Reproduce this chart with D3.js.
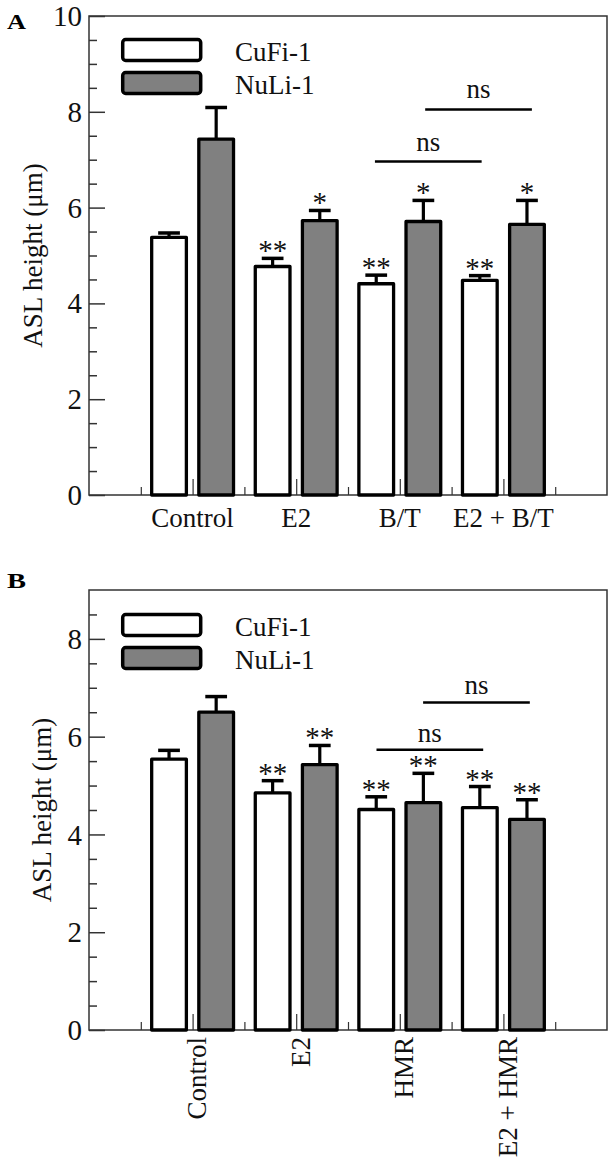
<!DOCTYPE html>
<html>
<head>
<meta charset="utf-8">
<script src="https://cdn.jsdelivr.net/npm/d3@7"></script>
<style>
  html, body { margin: 0; padding: 0; background: #fff; }
  svg { display: block; }
</style>
</head>
<body>
<svg id="chart" width="615" height="1167"></svg>
<script>
// ---------- DATA ----------
const seriesNames = ["CuFi-1", "NuLi-1"];
const groupPositions = [2, 4, 6, 8];

// Panel A
const categoriesA = ["Control", "E2", "B/T", "E2 + B/T"];
const cufiA = [5.38, 4.77, 4.41, 4.48];
const cufiAErr = [0.09, 0.17, 0.18, 0.10];
const nuliA = [7.43, 5.73, 5.71, 5.65];
const nuliAErr = [0.66, 0.21, 0.44, 0.50];
const cufiASig = ["", "**", "**", "**"];
const nuliASig = ["", "*", "*", "*"];
const yTicksA = [0, 2, 4, 6, 8, 10];
const nsA = [{x0: 5.52, x1: 7.58, y: 6.96, label: "ns"}, {x0: 6.49, x1: 8.55, y: 8.05, label: "ns"}];

// Panel B
const categoriesB = ["Control", "E2", "HMR", "E2 + HMR"];
const cufiB = [5.54, 4.85, 4.51, 4.55];
const cufiBErr = [0.18, 0.25, 0.26, 0.43];
const nuliB = [6.50, 5.43, 4.65, 4.31];
const nuliBErr = [0.32, 0.39, 0.60, 0.40];
const cufiBSig = ["", "**", "**", "**"];
const nuliBSig = ["", "**", "**", "**"];
const yTicksB = [0, 2, 4, 6, 8];
const nsB = [{x0: 5.55, x1: 7.61, y: 5.73, label: "ns"}, {x0: 6.45, x1: 8.51, y: 6.70, label: "ns"}];

// ---------- DRAW ----------
const FONT = "'Liberation Serif', 'Times New Roman', Times, serif";
const svg = d3.select("#chart");

function drawPanel(cfg) {
  const g = svg.append("g");
  const x = d3.scaleLinear().domain([0, 10]).range([89, 607]);
  const y = d3.scaleLinear().domain([0, cfg.yMax]).range([cfg.bottom, cfg.top]);

  // frame
  g.append("rect")
    .attr("x", x(0)).attr("y", y(cfg.yMax))
    .attr("width", x(10) - x(0)).attr("height", y(0) - y(cfg.yMax))
    .attr("fill", "none").attr("stroke", "#333").attr("stroke-width", 1.5);

  // y axis major
  const yMajor = d3.axisLeft(y).tickValues(cfg.yTicks).tickSizeInner(-16).tickSizeOuter(0).tickPadding(7)
    .tickFormat(d3.format("d"));
  const ya = g.append("g").attr("transform", `translate(${x(0)},0)`).call(yMajor);
  ya.select(".domain").remove();
  ya.selectAll("line").attr("stroke", "#333").attr("stroke-width", 1.5);
  ya.selectAll("text").attr("font-family", FONT).attr("font-size", 29).attr("fill", "#111").attr("dy", "0.33em");
  // y minor
  const yMinorVals = d3.range(0.5, cfg.yMax + 0.001, 0.5).filter(v => v % 2 !== 0 && v < cfg.yMax);
  const ym = g.append("g").attr("transform", `translate(${x(0)},0)`)
    .call(d3.axisLeft(y).tickValues(yMinorVals).tickSizeInner(-8).tickSizeOuter(0).tickFormat(""));
  ym.select(".domain").remove();
  ym.selectAll("line").attr("stroke", "#333").attr("stroke-width", 1.5);

  // x axis major
  const xMajor = d3.axisBottom(x).tickValues(groupPositions).tickSizeInner(-16).tickSizeOuter(0).tickFormat("");
  const xa = g.append("g").attr("transform", `translate(0,${y(0)})`).call(xMajor);
  xa.select(".domain").remove();
  xa.selectAll("line").attr("stroke", "#333").attr("stroke-width", 1.2);
  const xm = g.append("g").attr("transform", `translate(0,${y(0)})`)
    .call(d3.axisBottom(x).tickValues([1, 3, 5, 7, 9]).tickSizeInner(-8).tickSizeOuter(0).tickFormat(""));
  xm.select(".domain").remove();
  xm.selectAll("line").attr("stroke", "#333").attr("stroke-width", 1.2);

  // category labels
  const lab = g.append("g").selectAll("text").data(cfg.categories).join("text")
    .attr("font-family", FONT).attr("font-size", 27).attr("fill", "#111")
    .text(d => d);
  if (cfg.rotate) {
    lab.attr("text-anchor", "end")
      .attr("transform", (d, i) => `translate(${x(groupPositions[i]) + 13.5},${y(0) + 7}) rotate(-90)`);
  } else {
    lab.attr("text-anchor", "middle")
      .attr("x", (d, i) => x(groupPositions[i]))
      .attr("y", y(0) + 32);
  }

  // bars
  const offs = [-0.455, 0.455];
  const bw = 0.67;
  const fills = ["#ffffff", "#808080"];
  const series = [
    {vals: cfg.cufi, err: cfg.cufiErr, sig: cfg.cufiSig},
    {vals: cfg.nuli, err: cfg.nuliErr, sig: cfg.nuliSig}
  ];
  series.forEach((s, si) => {
    const sg = g.append("g");
    const data = s.vals.map((v, i) => ({v, e: s.err[i], sig: s.sig[i], c: groupPositions[i] + offs[si]}));
    sg.selectAll("line.err").data(data).join("line")
      .attr("x1", d => x(d.c)).attr("x2", d => x(d.c))
      .attr("y1", d => y(d.v)).attr("y2", d => y(d.v + d.e))
      .attr("stroke", "#000").attr("stroke-width", 3.2);
    sg.selectAll("line.cap").data(data).join("line")
      .attr("x1", d => x(d.c - 0.21)).attr("x2", d => x(d.c + 0.21))
      .attr("y1", d => y(d.v + d.e)).attr("y2", d => y(d.v + d.e))
      .attr("stroke", "#000").attr("stroke-width", 3.5);
    sg.selectAll("rect").data(data).join("rect")
      .attr("x", d => x(d.c - bw / 2)).attr("width", x(bw) - x(0))
      .attr("y", d => y(d.v)).attr("height", d => y(0) - y(d.v))
      .attr("fill", fills[si]).attr("stroke", "#000").attr("stroke-width", 3.3)
      .attr("stroke-linejoin", "round");
    sg.selectAll("text").data(data).join("text")
      .attr("x", d => x(d.c)).attr("y", d => y(d.v + d.e) + 2)
      .attr("text-anchor", "middle").attr("font-family", FONT).attr("font-size", 29).attr("fill", "#111")
      .text(d => d.sig);
  });

  // ns brackets
  cfg.ns.forEach(n => {
    g.append("line").attr("x1", x(n.x0)).attr("x2", x(n.x1)).attr("y1", y(n.y)).attr("y2", y(n.y))
      .attr("stroke", "#000").attr("stroke-width", 2.5);
    g.append("text").attr("x", (x(n.x0) + x(n.x1)) / 2).attr("y", y(n.y) - cfg.nsGap)
      .attr("text-anchor", "middle").attr("font-family", FONT).attr("font-size", 27).attr("fill", "#111")
      .text(n.label);
  });

  // legend
  const lg = g.append("g");
  seriesNames.forEach((name, i) => {
    lg.append("rect").attr("x", 122.7).attr("y", cfg.legendTop + i * 33).attr("width", 78).attr("height", 21)
      .attr("rx", 3).attr("fill", fills[i]).attr("stroke", "#000").attr("stroke-width", 3.5);
    lg.append("text").attr("x", 235).attr("y", cfg.legendTop + i * 33 + 21)
      .attr("font-family", FONT).attr("font-size", 27).attr("fill", "#111").text(name);
  });

  // y label
  g.append("text")
    .attr("transform", `translate(${cfg.yLabelX},${(cfg.top + cfg.bottom) / 2}) rotate(-90)`)
    .attr("text-anchor", "middle").attr("font-family", FONT).attr("font-size", 27).attr("fill", "#111")
    .text("ASL height (\u03bcm)");

  // panel letter
  g.append("text").attr("x", 7).attr("y", cfg.letterY)
    .attr("font-family", FONT).attr("font-weight", "bold").attr("font-size", 21).attr("fill", "#000")
    .attr("textLength", 19).attr("lengthAdjust", "spacingAndGlyphs")
    .text(cfg.letter);
}

drawPanel({
  top: 16, bottom: 495, yMax: 10, yTicks: yTicksA, categories: categoriesA,
  cufi: cufiA, cufiErr: cufiAErr, nuli: nuliA, nuliErr: nuliAErr, cufiSig: cufiASig, nuliSig: nuliASig,
  ns: nsA, nsGap: 11, legendTop: 39.5, yLabelX: 41.5, letter: "A", letterY: 28.5, rotate: false
});
drawPanel({
  top: 590, bottom: 1030, yMax: 9, yTicks: yTicksB, categories: categoriesB,
  cufi: cufiB, cufiErr: cufiBErr, nuli: nuliB, nuliErr: nuliBErr, cufiSig: cufiBSig, nuliSig: nuliBSig,
  ns: nsB, nsGap: 8, legendTop: 614.5, yLabelX: 50.5, letter: "B", letterY: 588, rotate: true
});
</script>
</body>
</html>
